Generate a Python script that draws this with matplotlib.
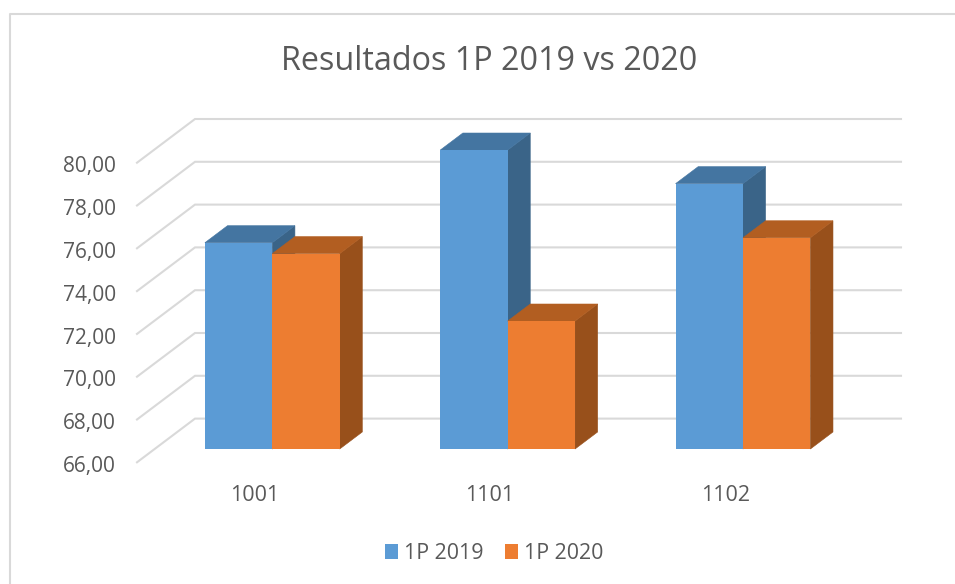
import numpy as np
import matplotlib
matplotlib.use("Agg")
import matplotlib.pyplot as plt
from matplotlib.patches import Polygon
from matplotlib.lines import Line2D
from matplotlib.transforms import ScaledTranslation

#====== data =======
categories = ["1001", "1101", "1102"]
series_names = ["1P 2019", "1P 2020"]
values_2019 = [75.64, 79.97, 78.40]
values_2020 = [75.13, 71.98, 75.87]
ticks = [66, 68, 70, 72, 74, 76, 78, 80]
tick_labels = ["66,00", "68,00", "70,00", "72,00", "74,00", "76,00", "78,00", "80,00"]

plt.rcParams['font.family'] = 'Open Sans'
TXT = '#595959'
GRID = '#d9d9d9'
W, H = 955, 584

fig = plt.figure(figsize=(W/100, H/100), dpi=100, facecolor='white')
# axes box = front plane of the fake 3D chart, in pixels
ax = fig.add_axes([137/W, 1-462.3/H, 706/W, 299.6/H])
ax.set_xlim(-0.5, 2.5)
ax.set_ylim(66, 80)
ax.patch.set_visible(False)
for s in ax.spines.values():
    s.set_visible(False)

# oblique projection, depth 0 = front of floor, depth 1 = back wall
DX = 58/235.35      # category units
DY = 43.7/21.4      # value units
def proj(x, v, d):
    return (x + d*DX, v + d*DY)

# walls
for t in ticks:
    p0 = proj(-0.5, t, 0)
    p1 = proj(-0.5, t, 1)
    p2 = proj(2.5, t, 1)
    ax.add_line(Line2D([p0[0], p1[0], p2[0]], [p0[1], p1[1], p2[1]], color=GRID, lw=1.5,
                       clip_on=False, zorder=1, solid_joinstyle='miter'))

bar_w = 67.4/235.35
bar_d0 = 0.304
bar_d1 = 0.304 + 0.39
series = [values_2019, values_2020]
offs = [-bar_w/2, bar_w/2]
fronts = ['#5b9bd5', '#ed7d31']
tops = ['#4475a1', '#b25e21']
sides = ['#3a6488', '#98501b']

z = 3
for i in range(len(categories)):
    for j in range(2):
        xc = i + offs[j]
        v = series[j][i]
        xl, xr = xc - bar_w/2, xc + bar_w/2
        # side face
        pts = [proj(xr, 66, bar_d0), proj(xr, 66, bar_d1), proj(xr, v, bar_d1), proj(xr, v, bar_d0)]
        ax.add_patch(Polygon(pts, fc=sides[j], ec=sides[j], lw=0.4, clip_on=False, zorder=z))
        # top face
        pts = [proj(xl, v, bar_d0), proj(xr, v, bar_d0), proj(xr, v, bar_d1), proj(xl, v, bar_d1)]
        ax.add_patch(Polygon(pts, fc=tops[j], ec=tops[j], lw=0.4, clip_on=False, zorder=z))
        # front face
        y0 = proj(xc, 66, bar_d0)[1]
        y1 = proj(xc, v, bar_d0)[1]
        ax.bar(proj(xc, 66, bar_d0)[0], y1-y0, bottom=y0, width=bar_w, color=fronts[j],
               label=series_names[j] if i == 0 else None, clip_on=False, zorder=z+0.5)
        z += 1

ax.set_yticks(ticks)
ax.set_yticklabels(tick_labels, fontsize=15, color=TXT)
ax.set_xticks(range(len(categories)))
ax.set_xticklabels(categories, fontsize=15.5, color=TXT)
ax.tick_params(axis='y', length=0, pad=15)
ax.tick_params(axis='x', length=0, pad=16.5)
# labels sit a bit lower than the gridline ends
shift = ScaledTranslation(0, -1.2/72, fig.dpi_scale_trans)
for lab in ax.get_yticklabels():
    lab.set_transform(lab.get_transform() + shift)

fig.text(489/W, 1-61/H, "Resultados 1P 2019 vs 2020", fontsize=23.3, color=TXT, ha='center', va='center')

leg = fig.legend(loc='center', bbox_to_anchor=(494/W, 1-553.5/H), ncol=2, frameon=False,
                 fontsize=15.4, labelcolor=TXT, handlelength=0.61, handleheight=0.65,
                 handletextpad=0.28, columnspacing=1.03, borderpad=0, borderaxespad=0)

# chart frame, cropped by the screenshot
fig.add_artist(Line2D([10/W, 10/W, 1], [0, 1-14/H, 1-14/H], color=GRID, lw=1.5))

fig.savefig("out.png", dpi=100)
